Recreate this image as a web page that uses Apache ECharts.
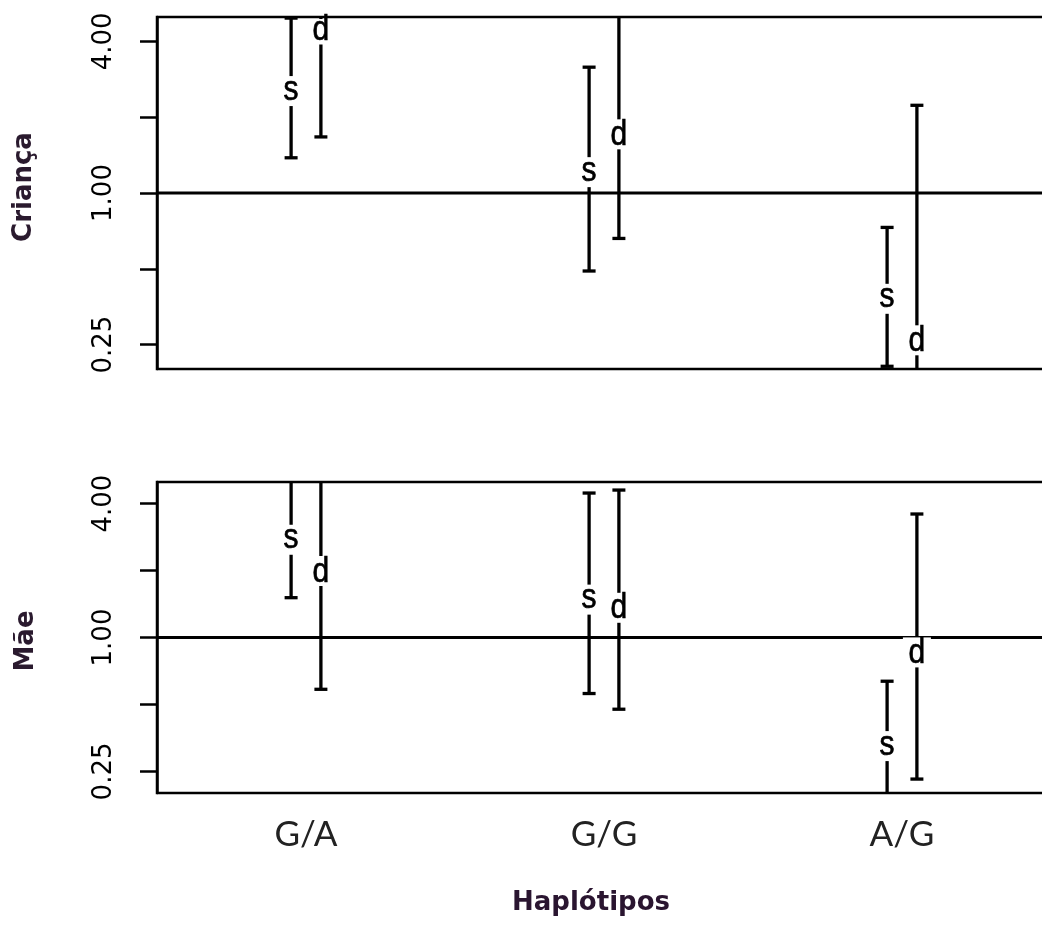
<!DOCTYPE html>
<html><head><meta charset="utf-8">
<script src="https://cdn.jsdelivr.net/npm/echarts@6/dist/echarts.min.js"></script>
<style>html,body{margin:0;padding:0;background:#fff}#c{width:1042px;height:925px}</style>
</head><body><div id="c"></div>
<script>
// ---- data ----
const categories = ['G/A', 'G/G', 'A/G'];
const panelTitles = ['Criança', 'Mãe'];
const xTitle = 'Haplótipos';
const yTickValues = [0.25, 0.5, 1, 2, 4];
const yLabelValues = [0.25, 1, 4];
const refValue = [1];
// Criança: s and d estimates with lower / upper bounds
const criancaSEst = [2.54, 1.21, 0.38];
const criancaSLow = [1.38, 0.49, 0.205];
const criancaSHigh = [4.95, 3.16, 0.73];
const criancaDEst = [4.46, 1.71, 0.26];
const criancaDLow = [1.67, 0.66, 0.15];
const criancaDHigh = [6, 6, 2.23];
// Mãe
const maeSEst = [2.75, 1.48, 0.325];
const maeSLow = [1.51, 0.56, 0.15];
const maeSHigh = [6, 4.46, 0.636];
const maeDEst = [1.99, 1.36, 0.857];
const maeDLow = [0.585, 0.476, 0.231];
const maeDHigh = [6, 4.6, 3.59];

const panels = [
  {s: [criancaSEst, criancaSLow, criancaSHigh], d: [criancaDEst, criancaDLow, criancaDHigh]},
  {s: [maeSEst, maeSLow, maeSHigh], d: [maeDEst, maeDLow, maeDHigh]}
];

function rows(a) { return categories.map((c, i) => [i, a[0][i], a[1][i], a[2][i]]); }

function errBar(offsetFrac, letter, nudge) {
  return function (params, api) {
    const cs = params.coordSys;
    const top = cs.y, bot = cs.y + cs.height;
    const ci = api.value(0);
    const band = api.size([1, 0])[0];
    const x = api.coord([ci, 1])[0] + offsetFrac * band;
    const yE = api.coord([ci, api.value(1)])[1];
    const yL = api.coord([ci, api.value(2)])[1];
    const yH = api.coord([ci, api.value(3)])[1];
    const y1 = Math.max(top, Math.min(bot, yH));
    const y2 = Math.max(top, Math.min(bot, yL));
    const ls = {stroke: '#000', lineWidth: 3.3};
    const cw = 6.5;
    const ch = [{type: 'line', shape: {x1: x, y1: y1, x2: x, y2: y2}, style: ls}];
    if (yH >= top - 1 && yH <= bot + 1) ch.push({type: 'line', shape: {x1: x - cw, y1: yH, x2: x + cw, y2: yH}, style: ls});
    if (yL >= top - 1 && yL <= bot + 1) ch.push({type: 'line', shape: {x1: x - cw, y1: yL, x2: x + cw, y2: yL}, style: ls});
    const bh = 30, bw = 28;
    const bt = Math.max(top + 2, yE - bh / 2), bb = Math.min(bot - 2, yE + bh / 2);
    if (bb > bt) ch.push({type: 'rect', shape: {x: x - bw / 2, y: bt, width: bw, height: bb - bt}, style: {fill: '#fff'}});
    ch.push({type: 'text', x: x, y: yE + nudge, scaleY: 1.15,
      style: {text: letter, font: '30px "Liberation Sans"', fill: '#000', stroke: '#000', lineWidth: 0.6,
        align: 'center', verticalAlign: 'middle'}});
    return {type: 'group', children: ch};
  };
}

function refLine(params, api) {
  const cs = params.coordSys;
  const y = api.coord([0, api.value(1)])[1];
  return {type: 'line', shape: {x1: cs.x, y1: y, x2: cs.x + cs.width, y2: y}, style: {stroke: '#000', lineWidth: 3}};
}

const grids = [
  {left: 157, top: 17, width: 894, height: 352},
  {left: 157, top: 482, width: 894, height: 311}
].map(g => Object.assign(g, {show: true, borderColor: '#000', borderWidth: 2.5, backgroundColor: 'transparent', containLabel: false, outerBoundsMode: 'none'}));

const xAxes = [0, 1].map(i => ({
  type: 'category', gridIndex: i, data: categories, boundaryGap: true,
  axisLine: {show: false}, axisTick: {show: false}, splitLine: {show: false},
  axisLabel: {show: i === 1, fontFamily: 'Lato', fontSize: 35, color: '#222', margin: 24}
}));

const yAxes = [0, 1].map(i => ({
  type: 'log', logBase: 2, gridIndex: i, min: 0.2, max: 5,
  axisLine: {show: true, lineStyle: {color: '#000', width: 2.5}},
  axisTick: {show: true, inside: false, length: 17, lineStyle: {color: '#000', width: 2.5}, customValues: yTickValues},
  axisLabel: {show: true, rotate: 90, margin: 40, customValues: yLabelValues,
    formatter: v => Number(v).toFixed(2), fontFamily: 'DejaVu Sans', fontSize: 26, color: '#000'},
  splitLine: {show: false}, minorTick: {show: false}
}));

const series = [];
panels.forEach((p, i) => {
  series.push({type: 'custom', xAxisIndex: i, yAxisIndex: i, z: 1, silent: true,
    data: refValue.map(v => [0, v]), renderItem: refLine});
  series.push({type: 'custom', xAxisIndex: i, yAxisIndex: i, z: 5, silent: true,
    data: rows(p.s), renderItem: errBar(-0.05, 's', -1)});
  series.push({type: 'custom', xAxisIndex: i, yAxisIndex: i, z: 6, silent: true,
    data: rows(p.d), renderItem: errBar(0.05, 'd', 1)});
});

const chart = echarts.init(document.getElementById('c'), null, {renderer: 'canvas'});
chart.setOption({
  animation: false,
  backgroundColor: '#fff',
  grid: grids, xAxis: xAxes, yAxis: yAxes, series: series,
  graphic: [
    {type: 'text', x: 24, y: 187, rotation: Math.PI / 2, style: {text: panelTitles[0], font: 'bold 26px "DejaVu Sans"', fill: '#2a1a2e', align: 'center', verticalAlign: 'middle'}},
    {type: 'text', x: 26, y: 641, rotation: Math.PI / 2, style: {text: panelTitles[1], font: 'bold 26px "DejaVu Sans"', fill: '#2a1a2e', align: 'center', verticalAlign: 'middle'}},
    {type: 'text', x: 591, y: 903, style: {text: xTitle, font: 'bold 26px "DejaVu Sans"', fill: '#2a1530', align: 'center', verticalAlign: 'middle'}}
  ]
});
</script></body></html>
